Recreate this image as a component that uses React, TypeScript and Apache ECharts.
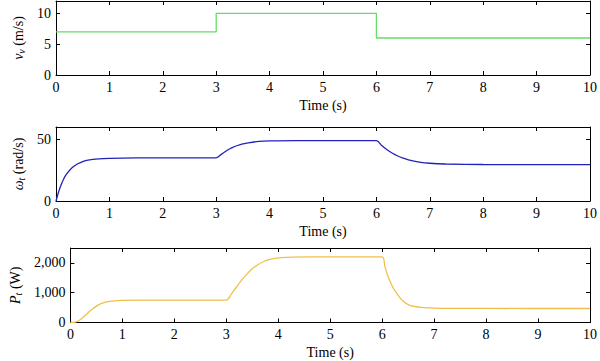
import React, { useEffect, useRef } from "react";
import * as echarts from "echarts";

// Panel 1: wind speed v_v (m/s), step profile
const speedPoints: [number, number][] = [
  [0, 7], [3, 7], [3, 10], [6, 10], [6, 6], [10, 6],
];

// Panel 2: rotor speed ω_t (rad/s)
const omegaPoints: [number, number][] = [
  [0, 0], [0.05, 7.5], [0.1, 13.5], [0.15, 18.5], [0.2, 22], [0.3, 27], [0.4, 30],
  [0.5, 32], [0.6, 33.2], [0.8, 34.2], [1.0, 34.6], [1.5, 34.9], [3.0, 35],
  [3.1, 38], [3.2, 41], [3.3, 43.3], [3.4, 45], [3.5, 46.3], [3.6, 47.2],
  [3.8, 48.3], [4.0, 48.7], [4.5, 49], [6.0, 49],
  [6.1, 45], [6.2, 41.5], [6.3, 38.7], [6.4, 36.5], [6.5, 34.8], [6.6, 33.4],
  [6.8, 31.6], [7.0, 30.6], [7.3, 30], [8.0, 29.6], [10, 29.5],
];

// Panel 3: power P_t (W)
const powerPoints: [number, number][] = [
  [0, 0], [0.05, 0], [0.1, 15], [0.15, 50], [0.2, 110], [0.3, 260], [0.4, 420],
  [0.5, 550], [0.6, 640], [0.7, 695], [0.8, 720], [1.0, 740], [1.3, 748], [3.0, 750],
  [3.1, 960], [3.2, 1200], [3.3, 1430], [3.4, 1630], [3.5, 1800], [3.6, 1930],
  [3.7, 2030], [3.8, 2100], [4.0, 2170], [4.3, 2195], [4.6, 2200], [6.0, 2200],
  [6.05, 1900], [6.1, 1600], [6.2, 1200], [6.3, 930], [6.4, 720], [6.5, 600],
  [6.6, 545], [6.8, 500], [7.0, 482], [7.3, 474], [8.0, 471], [10, 470],
];

const xTicks = { min: 0, max: 10, interval: 1 };
const yRanges = [
  { min: 0, max: 12, interval: 5 },
  { min: 0, max: 60, interval: 50 },
  { min: 0, max: 2500, interval: 1000 },
];
const yNames = [
  "{i|v}{s|v} (m/s)",
  "{i|ω}{s|t} (rad/s)",
  "{i|P}{s|t} (W)",
];
const colors = ["#66dd66", "#2222bb", "#f0c04c"];

const FONT = "Times New Roman";

export default function App() {
  const ref = useRef<HTMLDivElement>(null);
  useEffect(() => {
    if (!ref.current) return;
    const chart = echarts.init(ref.current, undefined, { renderer: "svg" });
    const tops = [1, 127, 248];
    const heights = [74, 74, 74.5];
    const grid = tops.map((t, i) => ({ left: 56, right: 7, top: t, height: heights[i] }));
    const xAxis: any[] = [];
    const yAxis: any[] = [];
    const lineStyle = { color: "#000", width: 1 };
    tops.forEach((_, i) => {
      xAxis.push({
        type: "value", gridIndex: i, ...xTicks, position: "bottom",
        axisLine: { show: true, onZero: false, lineStyle },
        axisTick: { show: true, inside: true, length: 4, lineStyle },
        axisLabel: { color: "#000", fontFamily: FONT, fontSize: 14, margin: 5 },
        splitLine: { show: false },
        name: "Time (s)", nameLocation: "middle", nameGap: 23,
        nameTextStyle: { color: "#000", fontFamily: FONT, fontSize: 14 },
      });
      xAxis.push({
        type: "value", gridIndex: i, ...xTicks, position: "top",
        axisLine: { show: true, onZero: false, lineStyle },
        axisTick: { show: true, inside: true, length: 4, lineStyle },
        axisLabel: { show: false }, splitLine: { show: false },
      });
      yAxis.push({
        type: "value", gridIndex: i, ...yRanges[i], position: "left",
        axisLine: { show: true, onZero: false, lineStyle },
        axisTick: { show: true, inside: true, length: 4, lineStyle },
        axisLabel: {
          color: "#000", fontFamily: FONT, fontSize: 14, margin: 5, showMaxLabel: false,
          formatter: (v: number) => v.toLocaleString("en-US"),
        },
        splitLine: { show: false },
        name: yNames[i], nameLocation: "middle", nameGap: 27,
        nameTextStyle: {
          color: "#000", fontFamily: FONT, fontSize: 14,
          rich: {
            i: { fontFamily: FONT, fontSize: 14, fontStyle: "italic", color: "#000" },
            s: { fontFamily: FONT, fontSize: 10, fontStyle: "italic", color: "#000", verticalAlign: "bottom", padding: [6, 0, 0, 0] },
          },
        },
      });
      yAxis.push({
        type: "value", gridIndex: i, ...yRanges[i], position: "right",
        axisLine: { show: true, onZero: false, lineStyle },
        axisTick: { show: true, inside: true, length: 4, lineStyle },
        axisLabel: { show: false }, splitLine: { show: false },
      });
    });
    const datasets = [speedPoints, omegaPoints, powerPoints];
    const series = datasets.map((d, i) => ({
      type: "line",
      xAxisIndex: i * 2,
      yAxisIndex: i * 2,
      data: d,
      showSymbol: false,
      smooth: i === 0 ? false : 0.3,
      lineStyle: { color: colors[i], width: 1.3 },
      itemStyle: { color: colors[i] },
    }));
    chart.setOption({
      animation: false,
      backgroundColor: "#fff",
      grid,
      xAxis,
      yAxis,
      series,
    });
    return () => chart.dispose();
  }, []);
  return <div ref={ref} style={{ width: 600, height: 361, position: "absolute", left: 0, top: 0 }} />;
}
